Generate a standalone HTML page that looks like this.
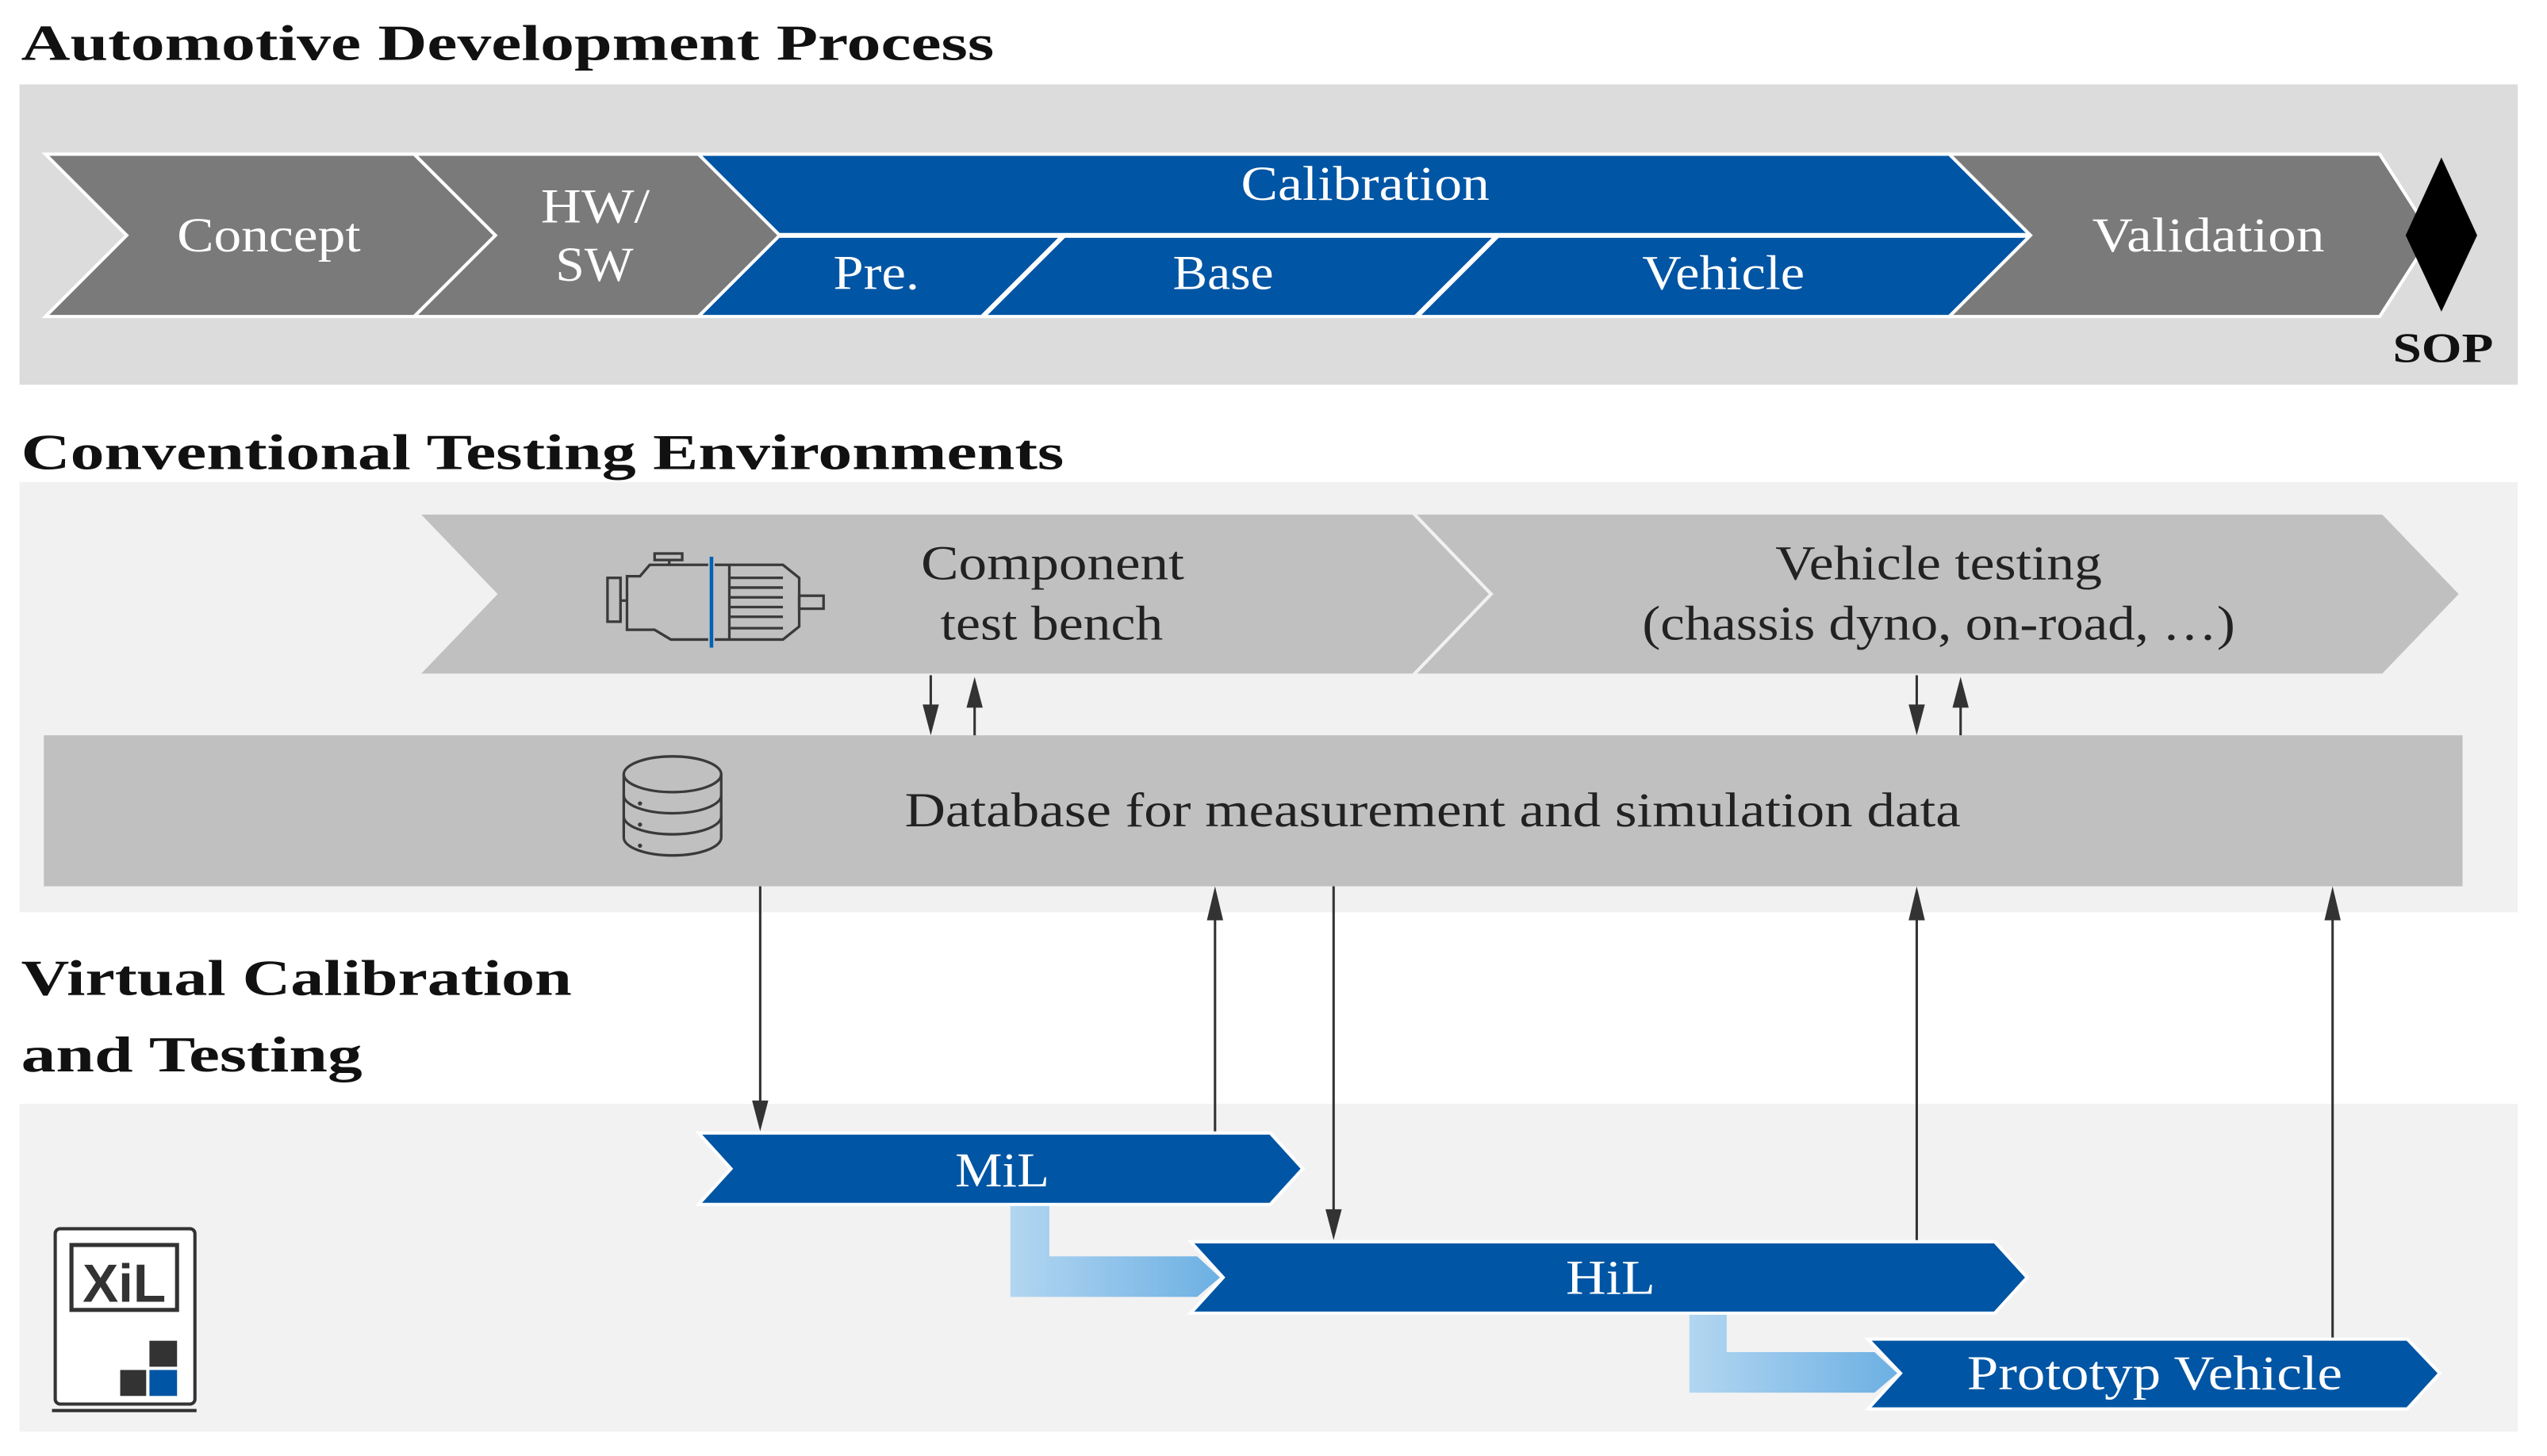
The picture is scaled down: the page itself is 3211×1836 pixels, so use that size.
<!DOCTYPE html>
<html><head><meta charset="utf-8"><style>html,body{margin:0;padding:0;background:#fff}svg{display:block}</style></head>
<body>
<svg width="3211" height="1836" viewBox="0 0 1568 897" preserveAspectRatio="none" xmlns="http://www.w3.org/2000/svg" font-family="'Liberation Serif', serif">
<defs>
<linearGradient id="lb" x1="0" x2="1" y1="0" y2="0"><stop offset="0" stop-color="#b3d6f1"/><stop offset="1" stop-color="#6cb0e3"/></linearGradient>
</defs>
<rect width="1568" height="897" fill="#fff"/>
<!-- Section 1 -->
<text x="13" y="37" font-size="31" font-weight="bold" fill="#111" textLength="599" lengthAdjust="spacingAndGlyphs">Automotive Development Process</text>
<rect x="12" y="52" width="1538" height="185" fill="#dcdcdc"/>
<g stroke="#fff" stroke-width="2">
<polygon points="28,95 255,95 305,145 255,195 28,195 78,145" fill="#7a7a7a"/>
<polygon points="255,95 430,95 480,145 430,195 255,195 305,145" fill="#7a7a7a"/>
<polygon points="1200,95 1465,95 1497,145 1465,195 1200,195 1250,145" fill="#7a7a7a"/>
<polygon points="430,95 1200,95 1250,145 1200,195 430,195 480,145" fill="#0055a4"/>
<line x1="479" y1="145" x2="1249" y2="145" stroke-width="3"/>
<line x1="655" y1="145" x2="605" y2="195" stroke-width="3"/>
<line x1="922" y1="145" x2="872" y2="195" stroke-width="3"/>
</g>
<polygon points="1503,97 1525,145 1503,192 1481,145" fill="#000"/>
<g fill="#fff" font-size="30">
<text x="109" y="155" textLength="113" lengthAdjust="spacingAndGlyphs">Concept</text>
<text x="333" y="137" textLength="67" lengthAdjust="spacingAndGlyphs">HW/</text>
<text x="342" y="173" textLength="48" lengthAdjust="spacingAndGlyphs">SW</text>
<text x="764" y="123" textLength="153" lengthAdjust="spacingAndGlyphs">Calibration</text>
<text x="513" y="178" textLength="53" lengthAdjust="spacingAndGlyphs">Pre.</text>
<text x="722" y="178" textLength="62" lengthAdjust="spacingAndGlyphs">Base</text>
<text x="1011" y="178" textLength="100" lengthAdjust="spacingAndGlyphs">Vehicle</text>
<text x="1288" y="155" textLength="143" lengthAdjust="spacingAndGlyphs">Validation</text>
</g>
<text x="1473" y="223" font-size="26" font-weight="bold" fill="#111" textLength="62" lengthAdjust="spacingAndGlyphs">SOP</text>
<!-- Section 2 -->
<text x="13" y="289" font-size="31" font-weight="bold" fill="#111" textLength="642" lengthAdjust="spacingAndGlyphs">Conventional Testing Environments</text>
<rect x="12" y="297" width="1538" height="265" fill="#f1f1f1"/>
<g stroke="#f1f1f1" stroke-width="2">
<polygon points="257,316 870,316 918,366 870,416 257,416 305,366" fill="#c0c0c0"/>
<polygon points="870,316 1467,316 1515,366 1467,416 870,416 918,366" fill="#c0c0c0"/>
</g>
<g fill="#222" font-size="30">
<text x="567" y="357" textLength="162" lengthAdjust="spacingAndGlyphs">Component</text>
<text x="579" y="394" textLength="137" lengthAdjust="spacingAndGlyphs">test bench</text>
<text x="1093" y="357" textLength="201" lengthAdjust="spacingAndGlyphs">Vehicle testing</text>
<text x="1011" y="394" textLength="365" lengthAdjust="spacingAndGlyphs">(chassis dyno, on-road, …)</text>
</g>
<!-- engine icon -->
<g fill="none" stroke="#3a3a3a" stroke-width="1.6">
<rect x="374" y="356" width="8" height="27"/>
<line x1="382" y1="370" x2="386" y2="370"/>
<path d="M436,348 L400,348 L394,355 L386,355 L386,388 L403,388 L413,394 L436,394"/>
<rect x="403" y="341" width="17" height="4"/>
<line x1="412" y1="345" x2="412" y2="348"/>
<path d="M440,348 L482,348 L492,356 L492,386 L482,394 L440,394"/>
<line x1="449" y1="348" x2="449" y2="394"/>
<line x1="449" y1="356" x2="482" y2="356"/><line x1="449" y1="362" x2="482" y2="362"/><line x1="449" y1="368" x2="482" y2="368"/><line x1="449" y1="374" x2="482" y2="374"/><line x1="449" y1="380" x2="482" y2="380"/><line x1="449" y1="387" x2="482" y2="387"/>
<rect x="492" y="367" width="15" height="8"/>
</g>
<line x1="438" y1="343" x2="438" y2="399" stroke="#0063b5" stroke-width="2.2"/>
<rect x="27" y="453" width="1489" height="93" fill="#c0c0c0"/>
<!-- db icon -->
<g fill="none" stroke="#3a3a3a" stroke-width="1.6">
<ellipse cx="414" cy="477" rx="30" ry="11"/>
<path d="M384,477 L384,516 A30,11 0 0 0 444,516 L444,477"/>
<path d="M384,490 A30,11 0 0 0 444,490"/>
<path d="M384,503 A30,11 0 0 0 444,503"/>
</g>
<g fill="#3a3a3a"><circle cx="394" cy="495" r="1.3"/><circle cx="394" cy="508" r="1.3"/><circle cx="394" cy="521" r="1.3"/></g>
<text x="557" y="509" font-size="30" fill="#222" textLength="650" lengthAdjust="spacingAndGlyphs">Database for measurement and simulation data</text>
<!-- Section 3 -->
<text x="13" y="613" font-size="31" font-weight="bold" fill="#111" textLength="339" lengthAdjust="spacingAndGlyphs">Virtual Calibration</text>
<text x="13" y="660" font-size="31" font-weight="bold" fill="#111" textLength="210" lengthAdjust="spacingAndGlyphs">and Testing</text>
<rect x="12" y="680" width="1538" height="202" fill="#f2f2f2"/>
<!-- light blue connectors -->
<polygon points="622,742 646,742 646,774 737,774 751,787 737,799 622,799" fill="url(#lb)"/>
<polygon points="1040,809 1063,809 1063,833 1154,833 1168,846 1154,858 1040,858" fill="url(#lb)"/>
<!-- arrows lines -->
<g stroke="#333" stroke-width="1.5">
<line x1="573" y1="416" x2="573" y2="440"/>
<line x1="600" y1="453" x2="600" y2="430"/>
<line x1="1180" y1="416" x2="1180" y2="440"/>
<line x1="1207" y1="453" x2="1207" y2="430"/>
<line x1="468" y1="546" x2="468" y2="684"/>
<line x1="748" y1="698" x2="748" y2="560"/>
<line x1="821" y1="546" x2="821" y2="751"/>
<line x1="1180" y1="765" x2="1180" y2="560"/>
<line x1="1436" y1="825" x2="1436" y2="560"/>
</g>
<g stroke="#fff" stroke-width="2">
<polygon points="430,698 782,698 802,720 782,742 430,742 450,720" fill="#0055a4"/>
<polygon points="733,765 1228,765 1248,787 1228,809 733,809 753,787" fill="#0055a4"/>
<polygon points="1150,825 1482,825 1502,846 1482,868 1150,868 1170,846" fill="#0055a4"/>
</g>
<g fill="#333">
<polygon points="568,434 578,434 573,453"/>
<polygon points="595,436 605,436 600,417"/>
<polygon points="1175,434 1185,434 1180,453"/>
<polygon points="1202,436 1212,436 1207,417"/>
<polygon points="463,678 473,678 468,697"/>
<polygon points="743,567 753,567 748,546"/>
<polygon points="816,745 826,745 821,764"/>
<polygon points="1175,567 1185,567 1180,546"/>
<polygon points="1431,567 1441,567 1436,546"/>
</g>
<g fill="#fff" font-size="30">
<text x="588" y="731" textLength="58" lengthAdjust="spacingAndGlyphs">MiL</text>
<text x="964" y="797" textLength="55" lengthAdjust="spacingAndGlyphs">HiL</text>
<text x="1211" y="856" textLength="231" lengthAdjust="spacingAndGlyphs">Prototyp Vehicle</text>
</g>
<!-- XiL icon -->
<rect x="34" y="757" width="86" height="108" rx="3" fill="#fff" stroke="#333" stroke-width="2"/>
<rect x="44" y="767" width="65" height="40" fill="#fff" stroke="#333" stroke-width="2.5"/>
<text x="76.5" y="802" font-family="'Liberation Sans', sans-serif" font-weight="bold" font-size="33" fill="#333" text-anchor="middle">XiL</text>
<rect x="92" y="826" width="17" height="16" fill="#333"/>
<rect x="74" y="844" width="16" height="16" fill="#333"/>
<rect x="92" y="844" width="17" height="16" fill="#0055a4"/>
<line x1="32" y1="869" x2="121" y2="869" stroke="#333" stroke-width="2"/>
</svg>
</body></html>
